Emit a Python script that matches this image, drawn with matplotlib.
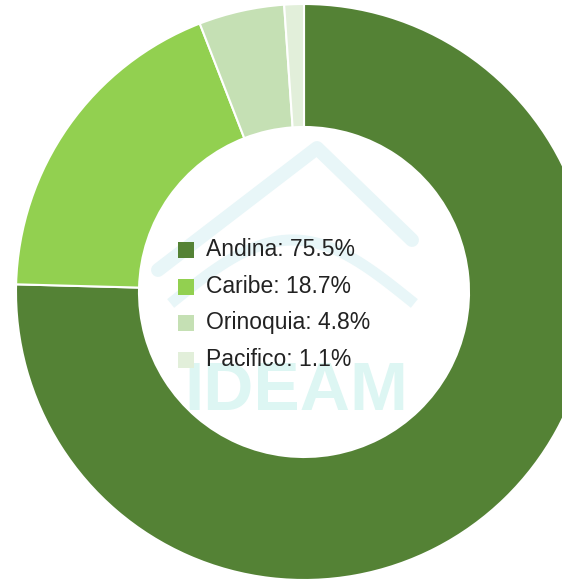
import matplotlib
matplotlib.use("Agg")
import matplotlib.pyplot as plt
from matplotlib.patches import Rectangle
import numpy as np

# Regional shares (%)
regions = ["Andina", "Caribe", "Orinoquia", "Pacifico"]
shares = [75.5, 18.7, 4.8, 1.1]
colors = ["#548235", "#92D050", "#C5E0B4", "#E2EFDA"]

W, H = 562, 582
fig = plt.figure(figsize=(W / 100, H / 100), dpi=100)
ax = fig.add_axes([0, 0, 1, 1])
ax.set_xlim(0, W)
ax.set_ylim(H, 0)
ax.set_aspect("equal")
ax.axis("off")

cx, cy, r_out, ring = 304, 292, 288, 123

# Faint logo watermark in the hole
wm = "#E8F6F8"
ax.plot([158, 317, 412], [270, 148, 240], color=wm, lw=10, solid_capstyle="round", zorder=1)
t = np.linspace(0, 1, 60)
ax.plot(175 + 235 * t, 300 - 60 * np.sin(np.pi * t), color=wm, lw=8, zorder=1)
ax.text(296, 392, "IDEAM", fontsize=50, fontweight="bold", color="#DDF6F3",
        ha="center", va="center", family="Liberation Sans", zorder=1)

# Donut, clockwise from 12 o'clock (y axis runs downward)
ax.pie(shares, colors=colors, startangle=-90, counterclock=True,
       center=(cx, cy), radius=r_out, frame=True,
       wedgeprops=dict(width=ring, edgecolor="white", linewidth=1.5))
ax.set_xlim(0, W)
ax.set_ylim(H, 0)
ax.axis("off")

# Legend in the centre
x0, y0, dy, sq = 178, 250, 36.5, 16
for i, (name, val, col) in enumerate(zip(regions, shares, colors)):
    y = y0 + i * dy
    ax.add_patch(Rectangle((x0, y - sq / 2), sq, sq, facecolor=col, edgecolor="none", zorder=3))
    ax.text(x0 + 28, y, f"{name}: {val}%", fontsize=16.5, color="#222222",
            family="Liberation Sans", va="center", ha="left", zorder=3)

fig.savefig("out.png", dpi=100, facecolor="white")
